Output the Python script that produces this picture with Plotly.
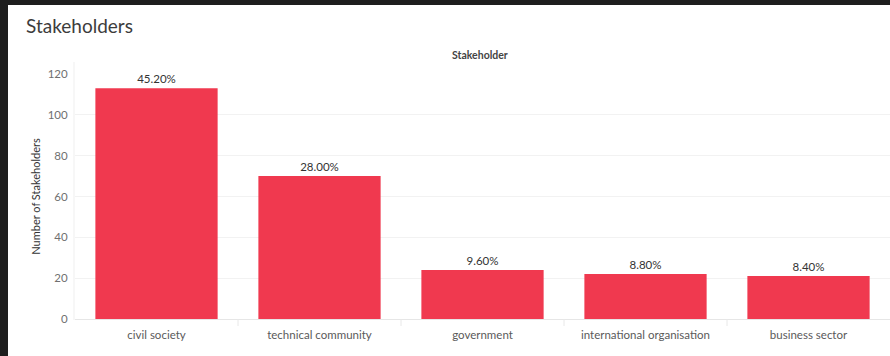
import plotly.graph_objects as go

categories = ["civil society", "technical community", "government", "international organisation", "business sector"]
counts = [113, 70, 24, 22, 21]
pct_labels = ["45.20%", "28.00%", "9.60%", "8.80%", "8.40%"]
y_ticks = [0, 20, 40, 60, 80, 100, 120]

W, H = 890, 356
L, R, T, B = 75, 0, 74, 37
pw, ph = W - L - R, H - T - B

def px(x):
    return (x - L) / pw

def py(y):
    return (H - B - y) / ph

FONT = "Lato"

fig = go.Figure(go.Bar(
    x=categories, y=counts, text=pct_labels, textposition="outside",
    textfont=dict(family=FONT, size=11.5, color="#333333"),
    marker=dict(color="#F0394F", line=dict(width=0)),
    width=0.75, cliponaxis=False, hoverinfo="skip",
))

shapes = [
    dict(type="rect", xref="paper", yref="paper", x0=px(8), x1=px(W), y0=py(H), y1=py(5),
         fillcolor="white", line=dict(width=0), layer="below"),
    dict(type="line", xref="paper", yref="paper", x0=px(74), x1=px(74), y0=py(320), y1=py(62),
         line=dict(color="#EFEFEF", width=1), layer="below"),
]
for i in range(1, len(categories)):
    shapes.append(dict(type="line", xref="x", yref="paper", x0=i - 0.5, x1=i - 0.5, y0=py(326), y1=py(319),
                       line=dict(color="#E8E8E8", width=1)))

fig.update_layout(
    width=W, height=H, margin=dict(l=L, r=R, t=T, b=B),
    paper_bgcolor="#1E1E1E", plot_bgcolor="white",
    showlegend=False, bargap=0.25,
    font=dict(family=FONT, size=11, color="#555555"),
    xaxis=dict(range=[-0.5, 4.5], showgrid=False, zeroline=False, showline=False,
               tickfont=dict(family=FONT, size=11.5, color="#5A5A5A"),
               ticks="outside", ticklen=5, tickcolor="rgba(0,0,0,0)"),
    yaxis=dict(range=[0, 120], tickvals=y_ticks, showgrid=True, gridcolor="#F2F2F2", gridwidth=1,
               zeroline=True, zerolinecolor="#E6E6E6", zerolinewidth=1, showline=False,
               tickfont=dict(family=FONT, size=11.5, color="#707070"),
               ticks="outside", ticklen=4, tickcolor="rgba(0,0,0,0)",
               title=dict(text="Number of Stakeholders", font=dict(family=FONT, size=11, color="#333333"),
                          standoff=4)),
    shapes=shapes,
    annotations=[
        dict(text="Stakeholders", xref="paper", yref="paper", x=px(24), y=py(25), xanchor="left", yanchor="middle",
             showarrow=False, font=dict(family=FONT, size=19, color="#3C3C3C")),
        dict(text="<b>Stakeholder</b>", xref="paper", yref="paper", x=px(480), y=py(55), xanchor="center",
             yanchor="middle", showarrow=False, font=dict(family=FONT, size=10.5, color="#444444")),
    ],
)

fig.write_html("out.html")
